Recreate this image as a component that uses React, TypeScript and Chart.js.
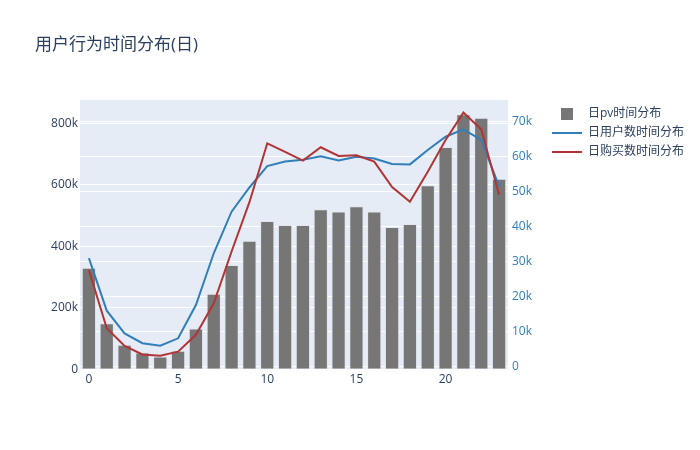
import React, { useEffect, useRef } from "react";
import { Chart, registerables } from "chart.js";

Chart.register(...registerables);

const chartTitle = "用户行为时间分布(日)";
const hours = Array.from({ length: 24 }, (_, i) => String(i));
const xTickShown = ["0", "5", "10", "15", "20"];

const pvLabel = "日pv时间分布";
const userLabel = "日用户数时间分布";
const buyLabel = "日购买数时间分布";

const pvCounts = [
  330000, 150000, 80000, 55000, 42000, 60000, 133000, 246000, 339000, 418000,
  482000, 469000, 469000, 521000, 513000, 530000, 513000, 463000, 473000,
  599000, 723000, 830000, 818000, 620000,
];
const userCounts = [
  31000, 16000, 9500, 6700, 6000, 8100, 17600, 32400, 44300, 51200, 57300,
  58600, 59100, 60100, 58900, 60000, 59500, 57900, 57800, 61900, 65700, 67800,
  64800, 51500,
];
const buyCounts = [
  27600, 11000, 5900, 3500, 3100, 4300, 9100, 18100, 32900, 47000, 63800,
  61400, 58900, 62700, 60200, 60400, 58600, 51300, 47100, 55700, 64800, 72600,
  67800, 49100,
];
const leftTicks = [0, 200000, 400000, 600000, 800000];
const rightTicks = [0, 10000, 20000, 30000, 40000, 50000, 60000, 70000];

const FONT = '"Open Sans", "Noto Sans CJK SC", sans-serif';
const BAR_COLOR = "#767676";
const BLUE = "rgb(49,126,184)";
const RED = "rgb(178,52,52)";
const TEXT = "#2a3f5f";

const fmtK = (v: number) => (v === 0 ? "0" : `${Math.round(v / 1000)}k`);

export default function App() {
  const ref = useRef<HTMLCanvasElement | null>(null);

  useEffect(() => {
    if (!ref.current) return;
    const decor = {
      id: "decor",
      beforeDraw(chart: any) {
        const { ctx, chartArea } = chart;
        ctx.save();
        ctx.fillStyle = "#ffffff";
        ctx.fillRect(0, 0, chart.width, chart.height);
        ctx.fillStyle = "#e5ecf6";
        ctx.fillRect(
          chartArea.left,
          chartArea.top,
          chartArea.right - chartArea.left,
          chartArea.bottom - chartArea.top
        );
        ctx.restore();
      },
      afterDraw(chart: any) {
        const { ctx } = chart;
        ctx.save();
        ctx.fillStyle = TEXT;
        ctx.font = `17px ${FONT}`;
        ctx.textBaseline = "middle";
        ctx.textAlign = "left";
        ctx.fillText(chartTitle, 35, 45);
        // legend
        ctx.font = `12px ${FONT}`;
        const ds = chart.data.datasets;
        const rows = [114, 133, 152];
        ds.forEach((d: any, i: number) => {
          const y = rows[i];
          if (d.type === "bar") {
            ctx.fillStyle = d.backgroundColor;
            ctx.fillRect(561, y - 6, 12, 12);
          } else {
            ctx.strokeStyle = d.borderColor;
            ctx.lineWidth = 2;
            ctx.beginPath();
            ctx.moveTo(552, y);
            ctx.lineTo(582, y);
            ctx.stroke();
          }
          ctx.fillStyle = TEXT;
          ctx.fillText(d.label, 588, y);
        });
        ctx.restore();
      },
    };

    const chart = new Chart(ref.current, {
      type: "bar",
      data: {
        labels: hours,
        datasets: [
          {
            type: "bar",
            label: pvLabel,
            data: pvCounts,
            backgroundColor: BAR_COLOR,
            borderColor: "rgba(225,230,240,0.9)",
            borderWidth: 1,
            barPercentage: 0.8,
            categoryPercentage: 1,
            yAxisID: "y",
            order: 3,
          },
          {
            type: "line",
            label: userLabel,
            data: userCounts,
            borderColor: BLUE,
            backgroundColor: BLUE,
            borderWidth: 2,
            pointRadius: 0,
            tension: 0,
            yAxisID: "y1",
            order: 2,
          },
          {
            type: "line",
            label: buyLabel,
            data: buyCounts,
            borderColor: RED,
            backgroundColor: RED,
            borderWidth: 2,
            pointRadius: 0,
            tension: 0,
            yAxisID: "y1",
            order: 1,
          },
        ] as any,
      },
      options: {
        responsive: false,
        animation: false,
        devicePixelRatio: 1,
        layout: { padding: { top: 100, left: 0, right: 0, bottom: 0 } },
        plugins: {
          legend: { display: false },
          title: { display: false },
          tooltip: { enabled: false },
        },
        scales: {
          x: {
            type: "category",
            offset: true,
            grid: { display: false, drawTicks: false },
            border: { display: false },
            ticks: {
              color: TEXT,
              font: { family: FONT, size: 12 },
              padding: 3,
              autoSkip: false,
              maxRotation: 0,
              callback: (_v: any, i: number) =>
                xTickShown.includes(hours[i]) ? hours[i] : null,
            },
            afterFit: (s: any) => {
              s.height = 80.7;
            },
          },
          y: {
            position: "left",
            min: 0,
            max: 876000,
            grid: { color: "#ffffff", lineWidth: 1, drawTicks: false },
            border: { display: false },
            ticks: {
              color: TEXT,
              font: { family: FONT, size: 12 },
              padding: 2,
              callback: (v: any) => fmtK(Number(v)),
            },
            afterBuildTicks: (s: any) => {
              s.ticks = leftTicks.map((v) => ({ value: v }));
            },
            afterFit: (s: any) => {
              s.width = 80;
            },
          },
          y1: {
            position: "right",
            min: -750,
            max: 76200,
            grid: { color: "#ffffff", lineWidth: 1, drawTicks: false },
            border: { display: false },
            ticks: {
              color: BLUE,
              font: { family: FONT, size: 12 },
              padding: 4,
              callback: (v: any) => fmtK(Number(v)),
            },
            afterBuildTicks: (s: any) => {
              s.ticks = rightTicks.map((v) => ({ value: v }));
            },
            afterFit: (s: any) => {
              s.width = 192;
            },
          },
        },
      } as any,
      plugins: [decor],
    });
    return () => chart.destroy();
  }, []);

  return (
    <div style={{ position: "absolute", left: 0, top: 0, width: 700, height: 450 }}>
      <canvas ref={ref} width={700} height={450} style={{ display: "block" }} />
    </div>
  );
}
